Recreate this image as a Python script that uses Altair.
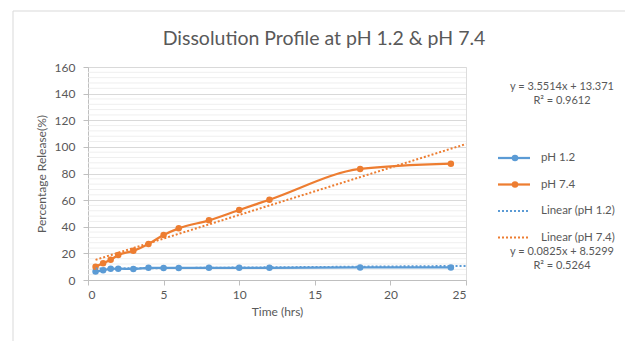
import altair as alt
import pandas as pd

# ---- data ----
time_hrs = [0.5, 1, 1.5, 2, 3, 4, 5, 6, 8, 10, 12, 18, 24]
ph12_release = [6.3, 7.3, 8.4, 8.5, 8.3, 9.2, 9.1, 9.1, 9.2, 9.2, 9.2, 9.4, 9.4]
ph74_release = [10, 12.6, 15.2, 18.8, 21.9, 27, 33.8, 38.8, 44.8, 52.6, 60.3, 83.4, 87.4]
series_names = ["pH 1.2", "pH 7.4"]
series_colors = ["#5b9bd5", "#ed7d31"]
trend_slope = [0.0825, 3.5514]
trend_intercept = [8.5299, 13.371]
trend_r2 = [0.5264, 0.9612]
trend_x = [0.5, 25]
y_major = [0, 20, 40, 60, 80, 100, 120, 140, 160]
y_minor = [v for v in range(0, 161, 4) if v % 20 != 0]
x_ticks = [0, 5, 10, 15, 20, 25]
legend_labels = ["pH 1.2", "pH 7.4", "Linear (pH 1.2)", "Linear (pH 7.4)"]
title_text = "Dissolution Profile at pH 1.2 & pH 7.4"

FONT = "Lato"
GREY = "#595959"

df = pd.DataFrame({
    "time": time_hrs * 2,
    "release": ph12_release + ph74_release,
    "series": [series_names[0]] * len(time_hrs) + [series_names[1]] * len(time_hrs),
})

trend_rows = []
for name, m, b in zip(series_names, trend_slope, trend_intercept):
    for xv in trend_x:
        trend_rows.append({"series": name, "time": xv, "release": m * xv + b})
trend_df = pd.DataFrame(trend_rows)

minor_df = pd.DataFrame({"v": y_minor})

xscale = alt.Scale(domain=[0, 25], nice=False, zero=False)
yscale = alt.Scale(domain=[0, 160], nice=False)
cscale = alt.Scale(domain=series_names, range=series_colors)

x_axis = alt.Axis(values=x_ticks, title="Time (hrs)", grid=False, domainColor="#bfbfbf",
                  tickColor="#bfbfbf", tickSize=5, labelPadding=4, labelFont=FONT,
                  labelFontSize=12, labelColor=GREY, titleFont=FONT, titleFontSize=12,
                  titleColor=GREY, titleFontWeight="normal", titlePadding=6)
y_axis = alt.Axis(values=y_major, title="Percentage Release(%)", grid=True, gridColor="#d9d9d9",
                  domainColor="#bfbfbf", tickColor="#bfbfbf", tickSize=5, labelPadding=8,
                  labelFont=FONT, labelFontSize=12, labelColor=GREY, titleFont=FONT,
                  titleFontSize=12, titleColor=GREY, titleFontWeight="normal", titlePadding=6)

X = alt.X("time:Q", scale=xscale, axis=x_axis)
Y = alt.Y("release:Q", scale=yscale, axis=y_axis)

one = pd.DataFrame({"a": [0]})

border = alt.Chart(one).mark_rect(
    fill="white", fillOpacity=0, stroke="#d9d9d9", strokeWidth=1
).encode(x=alt.value(-75), x2=alt.value(900), y=alt.value(-56), y2=alt.value(600))

title = alt.Chart(one).mark_text(
    text=title_text, align="center", baseline="alphabetic", font=FONT, fontSize=19.5, color=GREY
).encode(x=alt.value(236), y=alt.value(-22))

minor = alt.Chart(minor_df).mark_rule(color="#efefef", strokeWidth=1).encode(
    y=alt.Y("v:Q", scale=yscale, axis=y_axis)
)

lines = alt.Chart(df).mark_line(interpolate="monotone", strokeWidth=2.25).encode(
    x=X, y=Y, color=alt.Color("series:N", scale=cscale, legend=None)
)
points = alt.Chart(df).mark_circle(size=42, opacity=1).encode(
    x=X, y=Y, color=alt.Color("series:N", scale=cscale, legend=None)
)
trends = alt.Chart(trend_df).mark_line(strokeDash=[2, 2], strokeWidth=2).encode(
    x=X, y=Y, color=alt.Color("series:N", scale=cscale, legend=None)
)

layers = [border, title, minor, lines, points, trends]

# ---- manual legend ----
leg_y = [91, 117.5, 144, 170.5]
for i, lab in enumerate(legend_labels):
    col = series_colors[i % 2]
    dashed = i >= 2
    rule = alt.Chart(one).mark_rule(
        color=col, strokeWidth=2 if dashed else 2.25,
        **({"strokeDash": [2, 2]} if dashed else {})
    ).encode(x=alt.value(410), x2=alt.value(442), y=alt.value(leg_y[i]))
    layers.append(rule)
    if not dashed:
        layers.append(alt.Chart(one).mark_circle(size=42, opacity=1, color=col).encode(
            x=alt.value(427), y=alt.value(leg_y[i])))
    layers.append(alt.Chart(one).mark_text(
        text=lab, align="left", baseline="middle", font=FONT, fontSize=11.5, color=GREY
    ).encode(x=alt.value(453), y=alt.value(leg_y[i])))

# ---- trendline equations ----
eq_specs = [
    (f"y = {trend_slope[1]}x + {trend_intercept[1]}", f"R² = {trend_r2[1]}", 20),
    (f"y = {trend_slope[0]}x + {trend_intercept[0]}", f"R² = {trend_r2[0]}", 184.5),
]
for eq, r2txt, yy in eq_specs:
    layers.append(alt.Chart(one).mark_text(
        text=eq, align="center", baseline="middle", font=FONT, fontSize=11, color=GREY
    ).encode(x=alt.value(474), y=alt.value(yy)))
    layers.append(alt.Chart(one).mark_text(
        text=r2txt, align="center", baseline="middle", font=FONT, fontSize=11, color=GREY
    ).encode(x=alt.value(474), y=alt.value(yy + 14)))

chart = alt.layer(*layers).properties(
    width=378, height=213,
    autosize="none",
    padding={"left": 88, "top": 67, "right": 159, "bottom": 61},
).configure_view(stroke=None).configure(background="white")

chart.save("out.html", embed_options={"renderer": "svg", "actions": False})
